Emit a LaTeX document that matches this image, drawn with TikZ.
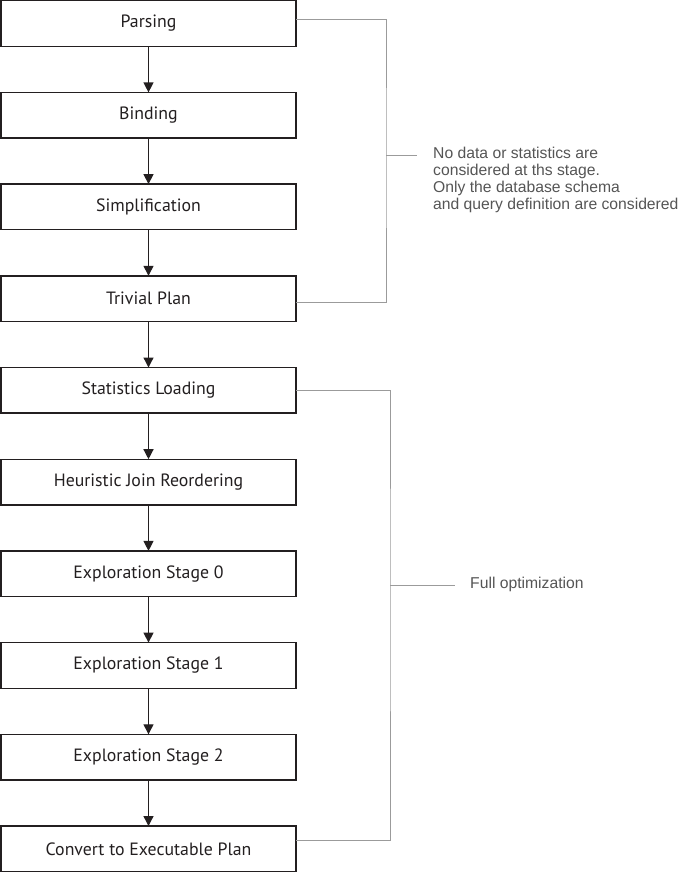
\documentclass[tikz,border=0pt]{standalone}
\usepackage{fontspec}
\usetikzlibrary{positioning}
\usetikzlibrary{arrows.meta}
\newfontfamily\boxfont{PT Sans}
\newfontfamily\notefont{Liberation Sans}
\definecolor{boxtext}{HTML}{231F20}
\definecolor{linegray}{HTML}{9B9B9B}
\definecolor{notegray}{HTML}{555555}
\tikzset{
    flownode/.style = {rectangle, draw=boxtext, line width=1.4pt, minimum width=295pt, minimum height=45.6pt, outer sep=0pt, align=center, font=\boxfont\fontsize{17.8}{20}\selectfont, text=boxtext},
    notenode/.style = {align=left, inner sep=0pt, font=\notefont\fontsize{15.7}{17}\selectfont, text=notegray},
    edgea/.style = {-{Triangle[width=10pt,length=10pt]}, line width=1.3pt, boxtext}, % flow
    edgeg/.style = {-, line width=1pt, linegray}, % bracket
}
\begin{document}
\begin{tikzpicture}[x=1pt, y=1pt, node distance=46.1pt]
\useasboundingbox (0,0) rectangle (681,-873);
\node[flownode] (parse) at (148.5,-23.5) {Parsing};
\node[flownode, below=of parse] (bind) {Binding};
\node[flownode, below=of bind] (simpl) {Simplification};
\node[flownode, below=of simpl] (trivial) {Trivial Plan};
\node[flownode, below=of trivial] (stats) {Statistics Loading};
\node[flownode, below=of stats] (heur) {Heuristic Join Reordering};
\node[flownode, below=of heur] (expa) {Exploration Stage 0};
\node[flownode, below=of expa] (expb) {Exploration Stage 1};
\node[flownode, below=of expb] (expc) {Exploration Stage 2};
\node[flownode, below=of expc] (conv) {Convert to Executable Plan};
\draw[edgea] (parse) -- (bind);
\draw[edgea] (bind) -- (simpl);
\draw[edgea] (simpl) -- (trivial);
\draw[edgea] (trivial) -- (stats);
\draw[edgea] (stats) -- (heur);
\draw[edgea] (heur) -- (expa);
\draw[edgea] (expa) -- (expb);
\draw[edgea] (expb) -- (expc);
\draw[edgea] (expc) -- (conv);
% first bracket
\coordinate (tick1) at (417,-155);
\coordinate (side1) at (386,-155);
\draw[edgeg] ([yshift=4.5pt]parse.east) -| (side1) |- ([yshift=-4pt]trivial.east);
\draw[edgeg] (side1) -- (tick1);
\node[notenode, anchor=north west] (note1) at (433,-146.5) {No data or statistics are\\considered at ths stage.\\Only the database schema\\and query definition are considered};
% second bracket
\coordinate (tick2) at (455,-585);
\coordinate (side2) at (390,-585);
\draw[edgeg] (stats.east) -| (side2) |- ([yshift=8pt]conv.east);
\draw[edgeg] (side2) -- (tick2);
\node[notenode, anchor=base west] (note2) at (470,-588) {Full optimization};
\end{tikzpicture}
\end{document}
